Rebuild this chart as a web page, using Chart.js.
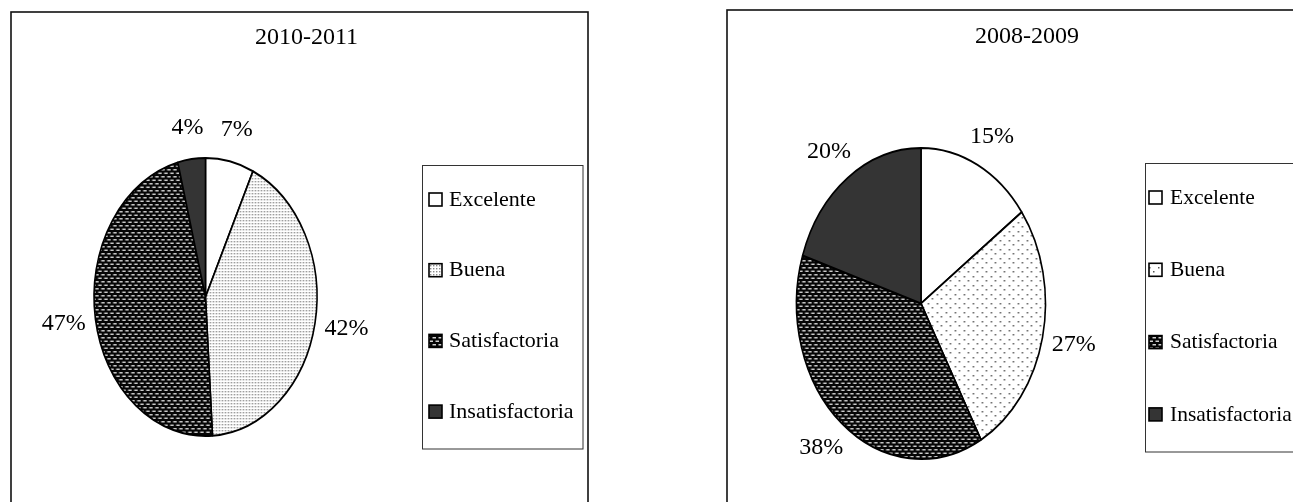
<!DOCTYPE html>
<html>
<head>
<meta charset="utf-8">
<script src="https://cdn.jsdelivr.net/npm/chart.js@4.4.1/dist/chart.umd.min.js"></script>
<style>
  html, body { margin: 0; padding: 0; background: #fff; overflow: hidden; }
  body { width: 1293px; height: 502px; position: relative; }
  canvas { position: absolute; left: 0; top: 0; }
</style>
</head>
<body>
<canvas id="pie2010" width="1293" height="502"></canvas>
<canvas id="pie2008" width="1293" height="502"></canvas>
<script>
// survey results, percent per rating
const categories = ['Excelente', 'Buena', 'Satisfactoria', 'Insatisfactoria'];
const values2010 = [7, 42, 47, 4];
const values2008 = [15, 27, 38, 20];
const title2010 = '2010-2011';
const title2008 = '2008-2009';

const FONT = "'Liberation Serif', 'Times New Roman', serif";
const BORDER = 2;

function tileCanvas(w, h, paint) {
  const c = document.createElement('canvas');
  c.width = w;
  c.height = h;
  paint(c.getContext('2d'));
  return c;
}

// white with grey dots
function dottedTile(step, dot, color) {
  return tileCanvas(step, step, g => {
    g.fillStyle = '#fff';
    g.fillRect(0, 0, step, step);
    g.fillStyle = color;
    g.fillRect(1, 1, dot, dot);
    if (step > 4) g.fillRect(1 + Math.round(step / 2), 1 + Math.round(step / 2), dot, dot);
  });
}

// black with staggered light dashes
const brickTile = tileCanvas(6, 7, g => {
  g.fillStyle = '#050505';
  g.fillRect(0, 0, 6, 7);
  g.fillStyle = '#d0d0d0';
  g.fillRect(0.5, 1, 3.5, 1.5);
  g.fillRect(3.5, 4.5, 3.5, 1.5);
  g.fillRect(-2.5, 4.5, 3.5, 1.5);
});

function makeFills(ctx, buenaTile, stretch) {
  const pat = tile => {
    const p = ctx.createPattern(tile, 'repeat');
    p.setTransform(new DOMMatrix([stretch, 0, 0, 1, 0, 0]));
    return p;
  };
  return ['#ffffff', pat(buenaTile), pat(brickTile), '#343434'];
}

function piePlugin(opts, swatches, sx) {
  return {
    id: 'ellipsePie',
    beforeDraw(chart) {
      const ctx = chart.ctx;
      ctx.save();
      ctx.strokeStyle = '#111';
      ctx.lineWidth = 1.6;
      ctx.strokeRect(...opts.frame);
      ctx.restore();
    },
    beforeDatasetsDraw(chart) {
      const ctx = chart.ctx;
      const arc = chart.getDatasetMeta(0).data[0];
      ctx.save();
      ctx.translate(arc.x, arc.y);
      ctx.scale(sx, 1);
      ctx.translate(-arc.x, -arc.y);
    },
    afterDatasetsDraw(chart) {
      chart.ctx.restore();
    },
    afterDraw(chart) {
      const ctx = chart.ctx;
      const meta = chart.getDatasetMeta(0);
      ctx.save();
      ctx.fillStyle = '#000';

      // title
      ctx.font = '24px ' + FONT;
      ctx.textAlign = 'center';
      ctx.textBaseline = 'alphabetic';
      ctx.fillText(opts.title, opts.titleX, opts.titleBase);

      // percent labels outside each slice
      ctx.textBaseline = 'middle';
      meta.data.forEach((arc, i) => {
        const mid = (arc.startAngle + arc.endAngle) / 2;
        const r = arc.outerRadius;
        const x = arc.x + (r * sx + opts.labelGap) * Math.cos(mid);
        const y = arc.y + (r + opts.labelGap) * Math.sin(mid);
        ctx.fillText(chart.data.datasets[0].data[i] + '%', x, y);
      });

      // legend
      ctx.strokeStyle = '#333';
      ctx.lineWidth = 1;
      ctx.strokeRect(...opts.legendBox);
      ctx.font = opts.legendFont + 'px ' + FONT;
      ctx.textAlign = 'left';
      chart.data.labels.forEach((label, i) => {
        const y = opts.legendY0 + i * opts.legendStep;
        ctx.fillStyle = swatches[i];
        ctx.fillRect(opts.swatchX, y - 7, 13, 13);
        ctx.strokeStyle = '#000';
        ctx.lineWidth = 1.6;
        ctx.strokeRect(opts.swatchX, y - 7, 13, 13);
        ctx.fillStyle = '#000';
        ctx.fillText(label, opts.textX, y);
      });
      ctx.restore();
    }
  };
}

function drawPie(id, opts) {
  const canvas = document.getElementById(id);
  const ctx = canvas.getContext('2d');
  const sx = opts.rx / opts.ry;
  const fills = makeFills(ctx, opts.buenaTile, 1 / sx);
  const swatches = makeFills(ctx, opts.buenaTile, 1);
  const half = opts.ry + BORDER / 2;

  return new Chart(ctx, {
    type: 'pie',
    data: {
      labels: categories,
      datasets: [{
        data: opts.values,
        backgroundColor: fills,
        borderColor: '#000',
        borderWidth: BORDER,
        hoverBorderWidth: BORDER,
        hoverOffset: 0
      }]
    },
    options: {
      responsive: false,
      animation: false,
      events: [],
      layout: {
        padding: {
          left: opts.cx - half,
          right: canvas.width - opts.cx - half,
          top: opts.cy - half,
          bottom: canvas.height - opts.cy - half
        }
      },
      plugins: {
        legend: { display: false },
        title: { display: false },
        tooltip: { enabled: false }
      }
    },
    plugins: [piePlugin(opts, swatches, sx)]
  });
}

drawPie('pie2010', {
  values: values2010,
  title: title2010,
  cx: 205.5, cy: 297, rx: 111.5, ry: 139,
  frame: [11, 12, 577, 560],
  titleX: 306.5, titleBase: 44,
  legendBox: [422.5, 165.5, 160.5, 283.5],
  legendY0: 200, legendStep: 70.7,
  swatchX: 429, textX: 449, legendFont: 22,
  buenaTile: dottedTile(3, 1.4, '#8a8a8a'),
  labelGap: 32
});

drawPie('pie2008', {
  values: values2008,
  title: title2008,
  cx: 921, cy: 303.5, rx: 124.5, ry: 155.5,
  frame: [727, 10, 700, 560],
  titleX: 1027, titleBase: 43,
  legendBox: [1145.5, 163.5, 300, 288.5],
  legendY0: 198, legendStep: 72.3,
  swatchX: 1149, textX: 1170, legendFont: 21.5,
  buenaTile: dottedTile(9, 1.5, '#555555'),
  labelGap: 32
});
</script>
</body>
</html>
